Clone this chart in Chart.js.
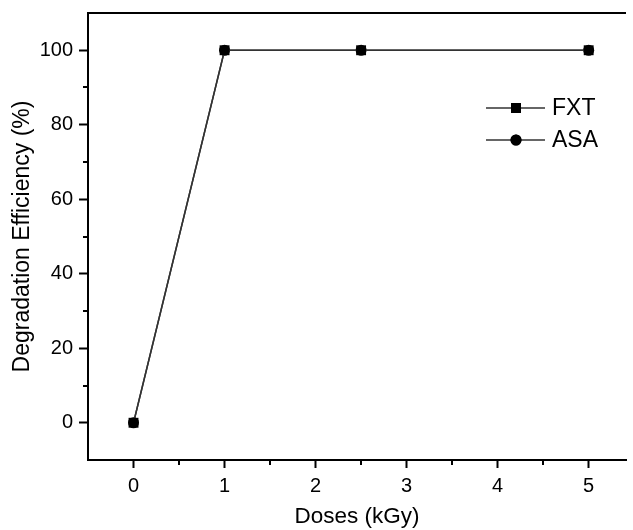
<!DOCTYPE html>
<html>
<head>
<meta charset="utf-8">
<script src="https://cdn.jsdelivr.net/npm/chart.js@4.4.1/dist/chart.umd.min.js"></script>
<style>
  html, body { margin: 0; padding: 0; background: #fff; }
  #wrap { width: 633px; height: 530px; position: relative; }
</style>
</head>
<body>
<div id="wrap"><canvas id="chart"></canvas></div>
<script>
// data
const doses = [0, 1, 2.5, 5];
const fxt = [0, 100, 100, 100];
const asa = [0, 100, 100, 100];
const seriesNames = ["FXT", "ASA"];
const xMajor = [0, 1, 2, 3, 4, 5];
const xMinor = [0.5, 1.5, 2.5, 3.5, 4.5];
const yMajor = [0, 20, 40, 60, 80, 100];
const yMinor = [10, 30, 50, 70, 90];

const FONT = "'Liberation Sans', Arial, sans-serif";

// minor ticks, top frame line and the legend box
const extras = {
  id: "extras",
  afterDraw(chart) {
    const ctx = chart.ctx;
    const area = chart.chartArea;
    const xs = chart.scales.x, ys = chart.scales.y;
    ctx.save();
    ctx.strokeStyle = "#000";
    ctx.lineWidth = 2;
    ctx.beginPath();
    xMinor.forEach(v => {
      const px = Math.round(xs.getPixelForValue(v));
      ctx.moveTo(px, area.bottom);
      ctx.lineTo(px, area.bottom + 5);
    });
    yMinor.forEach(v => {
      const py = Math.round(ys.getPixelForValue(v));
      ctx.moveTo(area.left, py);
      ctx.lineTo(area.left - 5, py);
    });
    ctx.moveTo(area.left - 1, area.top);
    ctx.lineTo(area.right, area.top);
    ctx.stroke();

    // legend
    const lx = area.left + 398, ly = area.top + 95, gap = 32;
    chart.data.datasets.forEach((ds, i) => {
      const y = ly + i * gap;
      ctx.strokeStyle = ds.borderColor;
      ctx.lineWidth = ds.borderWidth;
      ctx.beginPath();
      ctx.moveTo(lx, y);
      ctx.lineTo(lx + 59, y);
      ctx.stroke();
      ctx.fillStyle = "#000";
      Chart.helpers.drawPoint(ctx, {
        pointStyle: ds.pointStyle,
        radius: ds.pointRadius,
        rotation: 0,
        borderWidth: 0
      }, lx + 30, y);
      ctx.fill();
      ctx.font = "23px " + FONT;
      ctx.textBaseline = "middle";
      ctx.fillText(ds.label, lx + 66, y + 1);
    });
    ctx.restore();
  }
};

new Chart(document.getElementById("chart"), {
  type: "line",
  data: {
    datasets: [
      {
        label: seriesNames[0],
        data: doses.map((d, i) => ({ x: d, y: fxt[i] })),
        borderColor: "#333",
        borderWidth: 1.5,
        pointStyle: "rect",
        pointRadius: 7,
        pointBackgroundColor: "#000",
        pointBorderWidth: 0
      },
      {
        label: seriesNames[1],
        data: doses.map((d, i) => ({ x: d, y: asa[i] })),
        borderColor: "#333",
        borderWidth: 1.5,
        pointStyle: "circle",
        pointRadius: 5.5,
        pointBackgroundColor: "#000",
        pointBorderWidth: 0
      }
    ]
  },
  options: {
    responsive: true,
    maintainAspectRatio: false,
    animation: false,
    layout: { padding: { top: 13, left: 0, right: 0, bottom: 0 } },
    plugins: { legend: { display: false }, tooltip: { enabled: false } },
    scales: {
      x: {
        type: "linear",
        min: -0.5,
        max: 5.41,
        afterBuildTicks: s => { s.ticks = xMajor.map(v => ({ value: v })); },
        afterFit: s => { s.height = 70; s.paddingLeft = 0; s.paddingRight = 0; },
        border: { color: "#000", width: 2 },
        grid: { drawOnChartArea: false, tickLength: 8, tickColor: "#000", tickWidth: 2 },
        ticks: { color: "#000", padding: 6, font: { family: FONT, size: 20 } },
        title: {
          display: true,
          text: "Doses (kGy)",
          color: "#000",
          font: { family: FONT, size: 22.5 },
          padding: { top: 0, bottom: 0 }
        }
      },
      y: {
        type: "linear",
        min: -10,
        max: 110,
        afterBuildTicks: s => { s.ticks = yMajor.map(v => ({ value: v })); },
        afterFit: s => { s.width = 88; s.paddingTop = 0; s.paddingBottom = 0; },
        border: { color: "#000", width: 2 },
        grid: { drawOnChartArea: false, tickLength: 9, tickColor: "#000", tickWidth: 2 },
        ticks: { color: "#000", padding: 6, font: { family: FONT, size: 20 } },
        title: {
          display: true,
          text: "Degradation Efficiency (%)",
          color: "#000",
          font: { family: FONT, size: 23 },
          padding: { top: 9, bottom: 0 }
        }
      }
    }
  },
  plugins: [extras]
});
</script>
</body>
</html>
